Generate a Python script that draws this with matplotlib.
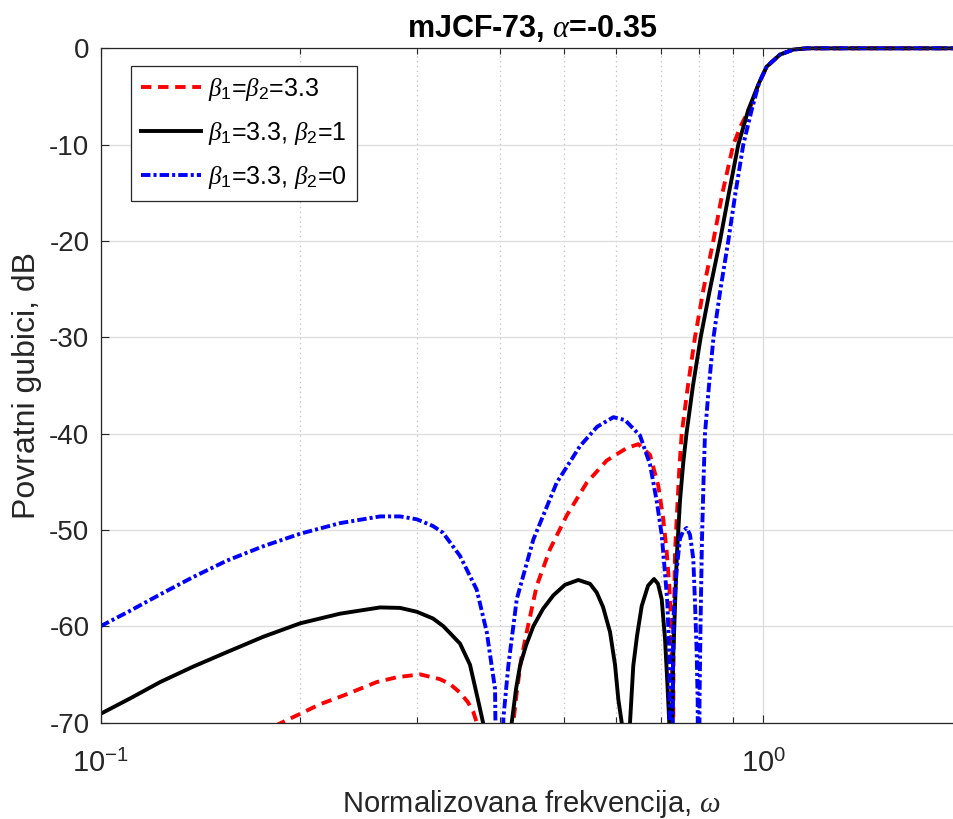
"""
Return loss of the mJCF-73 filter (alpha = -0.35) for three beta settings.
Log frequency axis, MATLAB-like styling.
"""

import matplotlib
matplotlib.use("Agg")
import matplotlib.pyplot as plt
from matplotlib.transforms import Bbox, TransformedBbox

# --- data (values below -70 dB mark the nulls) ---

# beta1 = beta2 = 3.3
w_red = [0.1740, 0.1877, 0.2000, 0.2143, 0.2324, 0.2463, 0.2610, 0.2797,
         0.3033, 0.3251, 0.3366, 0.3485, 0.3583, 0.3650, 0.3693, 0.3909,
         0.4194, 0.4244, 0.4308, 0.4394, 0.4549, 0.4764, 0.5049, 0.5412,
         0.5801, 0.6218, 0.6474, 0.6742, 0.6939, 0.7061, 0.7145, 0.7209,
         0.7252, 0.7277, 0.7290, 0.7315, 0.7354, 0.7397, 0.7464, 0.7527,
         0.7693, 0.7882, 0.8119, 0.8400, 0.8672, 0.9004, 0.9248, 0.9541,
         0.9845, 1.0112, 1.0590, 1.1090, 1.1618, 1.3504, 2.0]
rl_red = [-71.1, -70.0, -69.1, -68.1, -67.2, -66.5, -65.8, -65.3,
          -65.0, -65.5, -66.0, -66.9, -67.9, -68.9, -70.0, -110.0,
          -70.0, -66.9, -63.5, -60.6, -55.8, -52.0, -48.5, -45.1,
          -42.8, -41.5, -41.1, -42.2, -45.4, -48.9, -52.3, -55.8,
          -59.3, -64.0, -110.0, -62.0, -52.3, -48.9, -43.7, -40.0,
          -35.0, -30.0, -25.0, -20.0, -15.0, -10.0, -8.0, -6.2,
          -3.6, -1.9, -0.65, -0.13, 0.0, 0.0, 0.0]

# beta1 = 3.3, beta2 = 1
w_black = [0.1000, 0.1108, 0.1230, 0.1379, 0.1550, 0.1759, 0.2000, 0.2297,
           0.2640, 0.2830, 0.2999, 0.3173, 0.3289, 0.3485, 0.3608, 0.3714,
           0.3775, 0.3977, 0.4171, 0.4234, 0.4293, 0.4383, 0.4496, 0.4650,
           0.4819, 0.5019, 0.5256, 0.5474, 0.5603, 0.5727, 0.5868, 0.5971,
           0.6040, 0.6111, 0.6203, 0.6290, 0.6362, 0.6445, 0.6551, 0.6696,
           0.6837, 0.6932, 0.7022, 0.7103, 0.7160, 0.7209, 0.7252, 0.7277,
           0.7310, 0.7397, 0.7482, 0.7568, 0.7653, 0.7828, 0.8040, 0.8304,
           0.8597, 0.8870, 0.9161, 0.9485, 0.9845, 1.0112, 1.0590, 1.1090,
           1.1618, 1.3504, 2.0]
rl_black = [-69.1, -67.5, -65.8, -64.2, -62.7, -61.1, -59.7, -58.7,
            -58.05, -58.1, -58.5, -59.2, -60.0, -61.8, -64.0, -67.8,
            -70.0, -110.0, -70.0, -66.5, -64.1, -62.0, -60.0, -58.2,
            -56.8, -55.7, -55.2, -55.6, -56.5, -58.0, -60.6, -64.0,
            -67.6, -70.0, -110.0, -70.0, -64.1, -61.0, -57.9, -55.8,
            -55.1, -55.6, -57.2, -61.3, -65.8, -70.0, -110.0, -72.0,
            -63.0, -53.0, -47.0, -43.0, -40.0, -35.0, -30.0, -25.0,
            -20.0, -15.0, -10.0, -6.4, -3.6, -1.9, -0.65, -0.13,
            0.0, 0.0, 0.0]

# beta1 = 3.3, beta2 = 0
w_blue = [0.1000, 0.1108, 0.1230, 0.1379, 0.1550, 0.1759, 0.2000, 0.2297,
          0.2640, 0.2830, 0.2999, 0.3173, 0.3285, 0.3485, 0.3693, 0.3824,
          0.3936, 0.4005, 0.4051, 0.4122, 0.4244, 0.4496, 0.4876, 0.5287,
          0.5609, 0.5936, 0.6182, 0.6512, 0.6742, 0.6901, 0.7022, 0.7103,
          0.7160, 0.7209, 0.7252, 0.7310, 0.7397, 0.7482, 0.7568, 0.7658,
          0.7747, 0.7836, 0.7882, 0.7929, 0.7957, 0.7987, 0.8007, 0.8035,
          0.8076, 0.8119, 0.8161, 0.8275, 0.8406, 0.8612, 0.8849, 0.9073,
          0.9322, 0.9598, 0.9845, 1.0112, 1.0590, 1.1090, 1.1618, 1.3504,
          2.0]
rl_blue = [-60.0, -58.4, -56.7, -54.9, -53.2, -51.7, -50.4, -49.3,
           -48.6, -48.6, -48.9, -49.6, -50.3, -52.7, -56.2, -60.6,
           -66.5, -110.0, -69.6, -64.1, -57.2, -51.0, -45.1, -41.3,
           -39.3, -38.3, -38.6, -40.2, -43.2, -47.0, -50.5, -54.5,
           -57.5, -62.7, -110.0, -59.3, -54.1, -50.9, -50.1, -49.8,
           -50.5, -53.0, -57.5, -62.7, -67.9, -110.0, -68.0, -60.0,
           -51.0, -45.0, -40.0, -35.0, -30.0, -25.0, -20.0, -15.0,
           -10.0, -6.4, -3.6, -1.9, -0.65, -0.13, 0.0, 0.0,
           0.0]

labels = [r"$\beta_1$=$\beta_2$=3.3",
          r"$\beta_1$=3.3, $\beta_2$=1",
          r"$\beta_1$=3.3, $\beta_2$=0"]

x_major = [0.1, 1.0]
x_major_labels = [r"$10^{-1}$", r"$10^{0}$"]
x_minor = [0.2, 0.3, 0.4, 0.5, 0.6, 0.7, 0.8, 0.9, 2.0]
y_ticks = [-70, -60, -50, -40, -30, -20, -10, 0]

AX_COLOR = "#262626"


def setup_style():
    plt.rcParams["font.family"] = ["Liberation Sans", "DejaVu Sans"]
    plt.rcParams["mathtext.fontset"] = "custom"
    plt.rcParams["mathtext.rm"] = "Liberation Sans"
    plt.rcParams["mathtext.it"] = "Liberation Serif:italic"
    plt.rcParams["axes.unicode_minus"] = False
    plt.rcParams["lines.scale_dashes"] = False


def main():
    setup_style()

    fig = plt.figure(figsize=(9.54, 8.19), dpi=100)
    # right edge sits past the canvas, as in the cropped original
    ax = fig.add_axes([0.1054, 0.1178, 0.9041, 0.8232])

    lw = 2.8
    lines = []
    lines += ax.plot(w_red, rl_red, color="#ff0000", lw=lw,
                     dashes=(7.5, 4.8), dash_capstyle="butt")
    lines += ax.plot(w_black, rl_black, color="black", lw=lw,
                     solid_joinstyle="round")
    lines += ax.plot(w_blue, rl_blue, color="#0000ff", lw=lw,
                     dashes=(6.8, 2.2, 2.2, 2.2), dash_capstyle="butt")

    ax.set_xscale("log")
    ax.set_xlim(0.1, 2.0)
    ax.set_ylim(-70, 0)

    # let the 0 dB stroke spill over the top spine like MATLAB does
    clip = TransformedBbox(Bbox([[0, 0], [1, 1.01]]), ax.transAxes)
    for ln in lines:
        ln.set_clip_box(clip)

    ax.set_xticks(x_major)
    ax.set_xticklabels(x_major_labels)
    ax.set_xticks(x_minor, minor=True)
    ax.set_xticklabels([], minor=True)
    ax.set_yticks(y_ticks)
    ax.set_yticklabels([str(v) for v in y_ticks])

    ax.grid(which="major", color="#dedede", lw=1.0, ls="-")
    ax.grid(which="minor", axis="x", color="#c4c4c4", lw=0.9, ls=(0, (1, 2.5)))
    ax.set_axisbelow(True)

    for sp in ax.spines.values():
        sp.set_color(AX_COLOR)
        sp.set_linewidth(0.9)

    ax.tick_params(which="both", direction="in", top=True, right=True,
                   color=AX_COLOR, labelcolor=AX_COLOR, width=0.8,
                   labelsize=20)
    ax.tick_params(which="major", length=6)
    ax.tick_params(which="minor", length=4)
    ax.tick_params(axis="x", which="major", labelsize=21, pad=20)
    ax.tick_params(axis="y", which="major", pad=8)

    ax.set_title(r"mJCF-73, $\alpha$=-0.35", fontsize=22, fontweight="bold",
                 color="black", pad=8)
    ax.set_xlabel(r"Normalizovana frekvencija, $\omega$", fontsize=21,
                  color=AX_COLOR, labelpad=7)
    ax.set_ylabel("Povratni gubici, dB", fontsize=23, color=AX_COLOR,
                  labelpad=5)

    leg = ax.legend(lines, labels, loc="upper left",
                    bbox_to_anchor=(0.035, 0.974), borderaxespad=0,
                    fontsize=18, fancybox=False, framealpha=1,
                    edgecolor=AX_COLOR, handlelength=2.4, handletextpad=0.3,
                    labelspacing=0.68, borderpad=0.4)
    leg.get_frame().set_linewidth(0.9)

    fig.savefig("out.png", dpi=100)
    plt.close(fig)


if __name__ == "__main__":
    main()
